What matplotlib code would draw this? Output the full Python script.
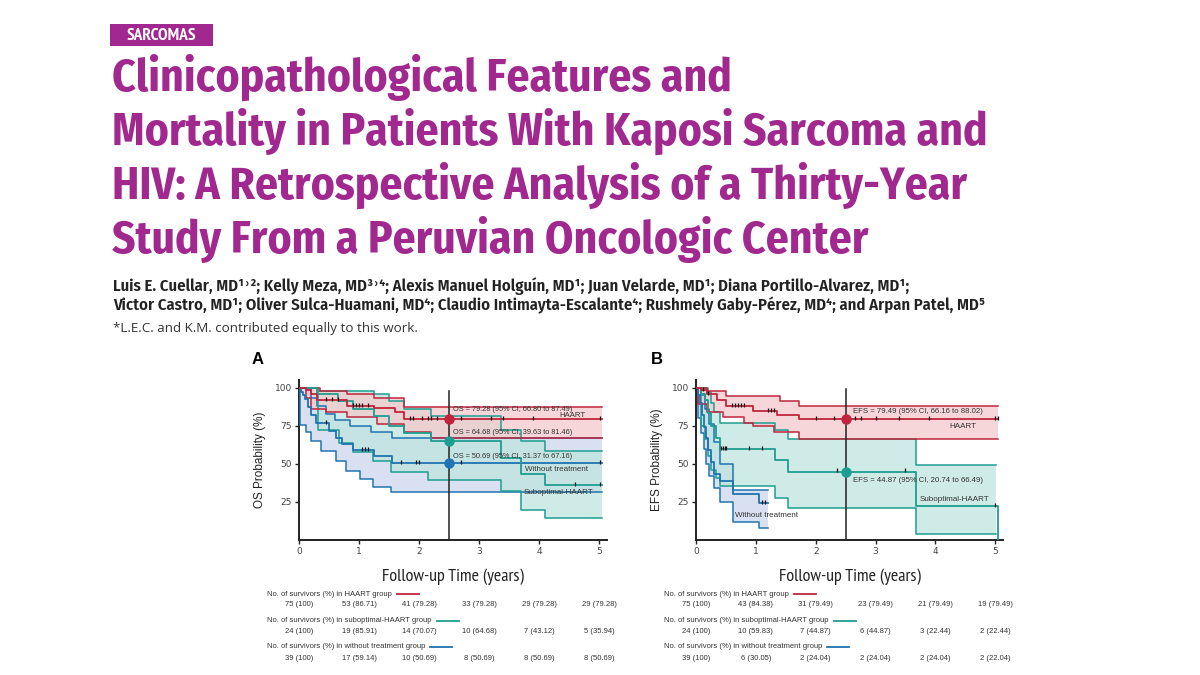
import numpy as np
import matplotlib.pyplot as plt
from matplotlib.patches import Rectangle
from matplotlib.lines import Line2D
from matplotlib.transforms import blended_transform_factory

W, H = 1200, 675
COND = ['Fira Sans Condensed', 'DejaVu Sans']
NARROW = ['PT Sans Narrow', 'DejaVu Sans']
SANS = ['Liberation Sans', 'DejaVu Sans']

PURPLE = '#A0288F'
RED, RED_FILL = '#C0253C', '#F4C9CB'
TEAL, TEAL_FILL = '#1E9E90', '#BFE5DF'
BLUE, BLUE_FILL = '#1F74B1', '#CBD6EE'

section = 'SARCOMAS'
title_lines = ['Clinicopathological Features and',
               'Mortality in Patients With Kaposi Sarcoma and',
               'HIV: A Retrospective Analysis of a Thirty-Year',
               'Study From a Peruvian Oncologic Center']
author_lines = ['Luis E. Cuellar, MD¹˒²; Kelly Meza, MD³˒⁴; Alexis Manuel Holguín, MD¹; Juan Velarde, MD¹; Diana Portillo-Alvarez, MD¹;',
                'Victor Castro, MD¹; Oliver Sulca-Huamani, MD⁴; Claudio Intimayta-Escalante⁴; Rushmely Gaby-Pérez, MD⁴; and Arpan Patel, MD⁵']
footnote = '*L.E.C. and K.M. contributed equally to this work.'

groups = ['HAART', 'suboptimal-HAART', 'without treatment']
years = [0, 1, 2, 3, 4, 5]

# ---- panel A: overall survival (%) ----
os_haart_t = [0, 0.12, 0.2, 0.3, 0.8, 1.25, 1.6, 1.75]
os_haart_s = [100, 98.7, 96.0, 92.0, 88.0, 86.7, 84.0, 79.28]
os_haart_up_t = [0, 0.35, 0.8, 1.25, 1.75]
os_haart_up = [100, 97.5, 95.5, 93.0, 87.49]
os_haart_lo_t = [0, 0.12, 0.2, 0.45, 0.8, 1.3, 1.75, 2.2]
os_haart_lo = [100, 93.0, 86.0, 83.8, 80.5, 76.0, 71.0, 66.80]
os_haart_cens = [0.45, 0.55, 0.65, 0.9, 0.95, 1.0, 1.05, 1.15, 1.85, 1.9, 2.05,
                 2.15, 2.2, 2.3, 2.45, 2.7, 3.2, 3.4, 3.9, 5.02]

os_sub_t = [0, 0.3, 0.65, 0.9, 1.25, 1.5, 1.75, 2.2, 3.37, 3.7, 4.1]
os_sub_s = [100, 95.8, 91.3, 85.91, 81.6, 75.0, 70.07, 64.68, 53.9, 43.12, 35.94]
os_sub_up_t = [0, 0.3, 1.25, 1.5, 1.75, 2.2, 3.37, 3.7, 4.1]
os_sub_up = [100, 97.5, 95.5, 91.0, 86.0, 81.46, 72.0, 65.0, 58.6]
os_sub_lo_t = [0, 0.32, 0.67, 0.9, 1.23, 1.54, 2.15, 3.37, 3.7, 4.1]
os_sub_lo = [100, 72.5, 63.5, 57.5, 52.0, 44.3, 39.63, 32.2, 19.7, 14.7]
os_sub_cens = [4.6, 5.02]

os_wo_t = [0, 0.03, 0.06, 0.1, 0.15, 0.2, 0.28, 0.5, 0.62, 0.72, 0.9, 1.25, 1.55]
os_wo_s = [100, 97.4, 94.9, 92.3, 87.2, 82.1, 76.9, 71.8, 66.7, 63.2, 59.14, 55.0, 50.69]
os_wo_up_t = [0, 0.2, 0.3, 0.45, 0.6, 0.85, 1.2, 1.55]
os_wo_up = [100, 93.0, 88.0, 83.0, 79.0, 75.0, 71.0, 67.16]
os_wo_lo_t = [0, 0.01, 0.12, 0.2, 0.37, 0.62, 0.79, 1.01, 1.23, 1.54]
os_wo_lo = [100, 75.6, 70.6, 65.0, 58.6, 52.0, 45.4, 40.0, 35.0, 31.37]
os_wo_cens = [0.45, 1.05, 1.1, 1.15, 1.7, 1.95, 2.0, 2.7, 5.02]

os_landmark = [79.28, 64.68, 50.69]
os_ci = [(66.80, 87.49), (39.63, 81.46), (31.37, 67.16)]
os_risk = [['75 (100)', '53 (86.71)', '41 (79.28)', '33 (79.28)', '29 (79.28)', '29 (79.28)'],
           ['24 (100)', '19 (85.91)', '14 (70.07)', '10 (64.68)', '7 (43.12)', '5 (35.94)'],
           ['39 (100)', '17 (59.14)', '10 (50.69)', '8 (50.69)', '8 (50.69)', '8 (50.69)']]

# ---- panel B: event-free survival (%) ----
efs_haart_t = [0, 0.08, 0.18, 0.35, 0.5, 0.95, 1.35, 1.72]
efs_haart_s = [100, 98.6, 95.9, 91.9, 87.8, 84.38, 82.0, 79.49]
efs_haart_up_t = [0, 0.18, 0.5, 1.4, 1.72]
efs_haart_up = [100, 97.5, 94.5, 91.0, 88.02]
efs_haart_lo_t = [0, 0.03, 0.18, 0.45, 0.8, 0.95, 1.3, 1.72]
efs_haart_lo = [100, 89.0, 84.0, 81.0, 77.0, 75.0, 71.0, 66.16]
efs_haart_cens = [0.12, 0.2, 0.6, 0.65, 0.7, 0.75, 0.8, 1.2, 1.25, 1.3, 2.0, 2.3,
                  2.65, 2.75, 3.0, 3.4, 3.9, 5.0, 5.05]

efs_sub_t = [0, 0.08, 0.15, 0.2, 0.25, 0.33, 0.4, 1.32, 1.54, 3.68, 5.05]
efs_sub_s = [100, 95.8, 91.7, 83.3, 75.0, 66.7, 59.83, 52.3, 44.87, 22.44, 0]
efs_sub_up_t = [0, 0.2, 0.25, 0.3, 0.4, 1.32, 1.54, 3.68]
efs_sub_up = [100, 97.0, 90.0, 84.0, 77.0, 72.0, 66.49, 49.3]
efs_sub_lo_t = [0, 0.08, 0.15, 0.2, 0.25, 0.33, 0.4, 1.32, 1.54, 3.68]
efs_sub_lo = [100, 75.0, 66.0, 55.0, 46.0, 41.0, 35.5, 27.8, 20.74, 4.2]
efs_sub_cens = [0.42, 0.45, 0.48, 0.5, 0.88, 1.1, 2.35, 3.5, 5.0]

efs_wo_t = [0, 0.03, 0.06, 0.1, 0.13, 0.17, 0.2, 0.25, 0.3, 0.4, 0.62, 1.05]
efs_wo_s = [100, 94.9, 89.7, 82.1, 74.4, 66.7, 59.0, 51.3, 43.6, 38.5, 30.05, 24.04]
efs_wo_up_t = [0, 0.08, 0.15, 0.22, 0.3, 0.4, 0.62]
efs_wo_up = [100, 95.0, 86.0, 76.0, 64.0, 50.0, 33.0]
efs_wo_lo_t = [0, 0.03, 0.08, 0.13, 0.17, 0.22, 0.3, 0.4, 0.62, 1.05]
efs_wo_lo = [100, 80.0, 70.0, 60.0, 50.0, 42.0, 34.0, 25.0, 12.0, 7.8]
efs_wo_cens = [1.1, 1.15]

efs_landmark = [79.49, 44.87]
efs_ci = [(66.16, 88.02), (20.74, 66.49)]
efs_risk = [['75 (100)', '43 (84.38)', '31 (79.49)', '23 (79.49)', '21 (79.49)', '19 (79.49)'],
            ['24 (100)', '10 (59.83)', '7 (44.87)', '6 (44.87)', '3 (22.44)', '2 (22.44)'],
            ['39 (100)', '6 (30.05)', '2 (24.04)', '2 (24.04)', '2 (24.04)', '2 (22.04)']]


def step_at(t, v, x):
    return np.asarray(v)[np.searchsorted(t, x, side='right') - 1]


def km_line(ax, t, v, t_end, color, cens=()):
    ax.step(list(t) + [t_end], list(v) + [v[-1]], where='post', color=color, lw=1.3, zorder=4)
    if len(cens):
        ax.plot(cens, step_at(t, v, cens) + 0.8, ls='none', marker='|', ms=3.5, mew=0.9,
                color='#111111', zorder=5)


def ci_band(ax, tu, vu, tl, vl, t_end, fill, edge, z):
    grid = np.unique(np.r_[tu, tl, t_end])
    up = step_at(tu, vu, grid)
    lo = step_at(tl, vl, grid)
    ax.fill_between(grid, lo, up, step='post', color=fill, lw=0, alpha=0.75, zorder=z)
    ax.step(grid, up, where='post', color=edge, lw=1.1, zorder=3)
    ax.step(grid, lo, where='post', color=edge, lw=1.1, zorder=3)


def style_axes(ax, ylabel):
    ax.set_xlim(0, 5.13)
    ax.set_ylim(0, 105)
    ax.set_xticks(years)
    ax.set_yticks([25, 50, 75, 100])
    for s in ['top', 'right']:
        ax.spines[s].set_visible(False)
    for s in ['left', 'bottom']:
        ax.spines[s].set_linewidth(1.4)
        ax.spines[s].set_color('#222222')
    ax.tick_params(length=3, width=1, labelsize=6.5, colors='#222222', labelcolor='#444444', pad=2)
    ax.set_ylabel(ylabel, fontsize=8.5, family=SANS, color='#222222', labelpad=6)
    ax.set_xlabel('Follow-up Time (years)', fontsize=13, family=NARROW, color='#222222', labelpad=9)


def fit_width(texts, target_px, renderer):
    # scale a group of lines so the widest one spans target_px
    widest = max(t.get_window_extent(renderer).width for t in texts)
    for t in texts:
        t.set_fontsize(t.get_fontsize() * target_px / widest)


fig = plt.figure(figsize=(W / 100, H / 100), dpi=100)
fig.patch.set_facecolor('white')
renderer = fig.canvas.get_renderer()


def fy(py):
    return 1 - py / H


# header
fig.add_artist(Rectangle((110 / W, fy(46)), 103 / W, 22 / H, transform=fig.transFigure,
                         facecolor=PURPLE, edgecolor='none'))
fig.text(161.5 / W, fy(35.5), section, color='white', fontsize=12.5, weight='bold',
         family=NARROW, ha='center', va='center')
title_texts = [fig.text(112 / W, fy(91 + 54 * i), line, color=PURPLE, fontsize=31, weight='bold',
                        family=COND, ha='left', va='baseline')
               for i, line in enumerate(title_lines)]
fit_width(title_texts, 876, renderer)
author_texts = [fig.text(113 / W, fy(291 + 19.5 * i), line, color='#222222', fontsize=10.5,
                         weight='semibold', family=COND, ha='left', va='baseline')
                for i, line in enumerate(author_lines)]
fit_width(author_texts, 873, renderer)
fig.text(113 / W, fy(332), footnote, color='#333333', fontsize=9.6, family=['Open Sans', 'DejaVu Sans'],
         ha='left', va='baseline')

axA = fig.add_axes([299 / W, fy(540), 308 / W, 160 / H])
axB = fig.add_axes([696 / W, fy(540), 307 / W, 160 / H])

# panel A
ci_band(axA, os_wo_up_t, os_wo_up, os_wo_lo_t, os_wo_lo, 5.04, BLUE_FILL, BLUE, 1)
ci_band(axA, os_sub_up_t, os_sub_up, os_sub_lo_t, os_sub_lo, 5.04, TEAL_FILL, TEAL, 1.5)
ci_band(axA, os_haart_up_t, os_haart_up, os_haart_lo_t, os_haart_lo, 5.04, RED_FILL, RED, 2)
km_line(axA, os_wo_t, os_wo_s, 5.04, BLUE, os_wo_cens)
km_line(axA, os_sub_t, os_sub_s, 5.04, TEAL, os_sub_cens)
km_line(axA, os_haart_t, os_haart_s, 5.04, RED, os_haart_cens)
axA.plot([2.5, 2.5], [0, 97.5], color='#222222', lw=1.1, zorder=6)
for val, (lo, hi), c, ty in zip(os_landmark, os_ci, [RED, TEAL, BLUE], [85.6, 70.6, 54.8]):
    axA.plot(2.5, val, 'o', color=c, ms=6.5, zorder=7)
    axA.text(2.57, ty, f'OS = {val:.2f} (95% CI, {lo:.2f} to {hi:.2f})', fontsize=5.3,
             family=SANS, color='#333333', va='center', zorder=8)
axA.text(4.77, 81.4, 'HAART', fontsize=5.6, family=SANS, color='#333333', ha='right', va='center', zorder=8)
axA.text(3.77, 46.3, 'Without treatment', fontsize=5.8, family=SANS, color='#333333', va='center', zorder=8)
axA.text(3.74, 31.4, 'Suboptimal-HAART', fontsize=5.8, family=SANS, color='#333333', va='center', zorder=8)
style_axes(axA, 'OS Probability (%)')

# panel B
ci_band(axB, efs_wo_up_t, efs_wo_up, efs_wo_lo_t, efs_wo_lo, 1.2, BLUE_FILL, BLUE, 1)
ci_band(axB, efs_sub_up_t, efs_sub_up, efs_sub_lo_t, efs_sub_lo, 5.02, TEAL_FILL, TEAL, 1.5)
ci_band(axB, efs_haart_up_t, efs_haart_up, efs_haart_lo_t, efs_haart_lo, 5.05, RED_FILL, RED, 2)
km_line(axB, efs_wo_t, efs_wo_s, 1.2, BLUE, efs_wo_cens)
km_line(axB, efs_sub_t, efs_sub_s, 5.05, TEAL, efs_sub_cens)
km_line(axB, efs_haart_t, efs_haart_s, 5.05, RED, efs_haart_cens)
axB.plot([2.5, 2.5], [0, 99], color='#222222', lw=1.1, zorder=6)
for val, (lo, hi), c, ty in zip(efs_landmark, efs_ci, [RED, TEAL], [84.2, 39.3]):
    axB.plot(2.5, val, 'o', color=c, ms=6.5, zorder=7)
    axB.text(2.63, ty, f'EFS = {val:.2f} (95% CI, {lo:.2f} to {hi:.2f})', fontsize=5.6,
             family=SANS, color='#333333', va='center', zorder=8)
axB.text(4.69, 74.3, 'HAART', fontsize=5.8, family=SANS, color='#333333', ha='right', va='center', zorder=8)
axB.text(3.73, 26.5, 'Suboptimal-HAART', fontsize=5.8, family=SANS, color='#333333', va='center', zorder=8)
axB.text(0.65, 15.8, 'Without treatment', fontsize=5.8, family=SANS, color='#333333', va='center', zorder=8)
style_axes(axB, 'EFS Probability (%)')

axA.text(-0.133, 1.13, 'A', transform=axA.transAxes, fontsize=12, weight='bold', family=SANS,
         ha='center', va='center')
axB.text(-0.127, 1.13, 'B', transform=axB.transAxes, fontsize=12, weight='bold', family=SANS,
         ha='center', va='center')

# numbers at risk
for ax, risk, x0 in [(axA, os_risk, 267), (axB, efs_risk, 664)]:
    trans = blended_transform_factory(ax.transData, fig.transFigure)
    for gi, (grp, row, col) in enumerate(zip(groups, risk, [RED, TEAL, BLUE])):
        yh = 594 + 26.5 * gi
        t = fig.text(x0 / W, fy(yh), f'No. of survivors (%) in {grp} group', fontsize=5.5,
                     family=SANS, color='#333333', va='center')
        bb = t.get_window_extent(renderer)
        fig.add_artist(Line2D([(bb.x1 + 5) / W, (bb.x1 + 27) / W], [fy(yh), fy(yh)],
                              transform=fig.transFigure, color=col, lw=1.3))
        for x, lab in zip(years, row):
            ax.text(x, fy(yh + 11), lab, transform=trans, fontsize=5.5, family=SANS,
                    color='#333333', ha='center', va='center')

fig.savefig('out.png', dpi=100, facecolor='white')
